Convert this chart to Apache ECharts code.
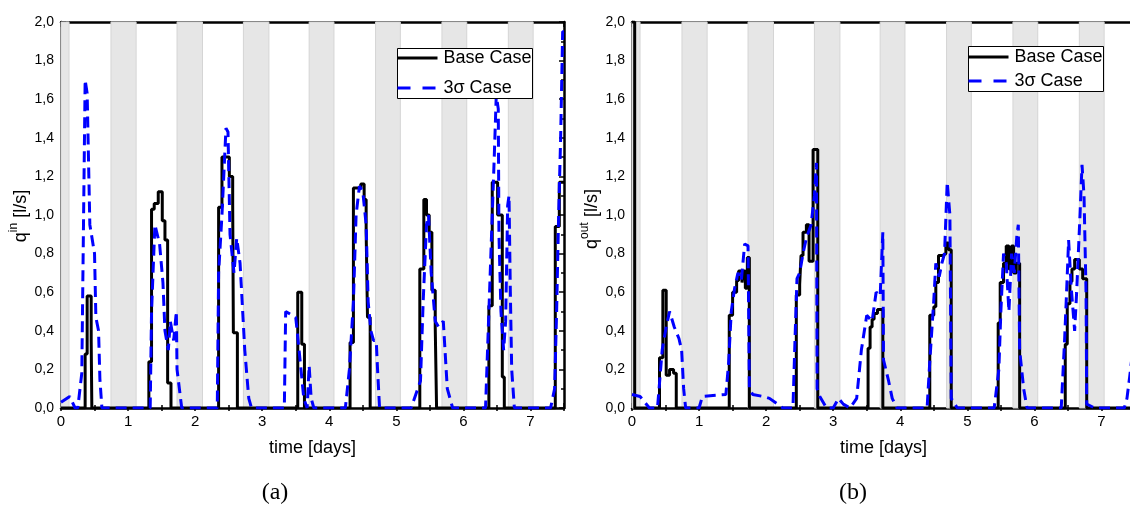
<!DOCTYPE html>
<html><head><meta charset="utf-8">
<script src="https://cdn.jsdelivr.net/npm/echarts@6/dist/echarts.min.js"></script>
<style>html,body{margin:0;padding:0;background:#fff}#c{width:1130px;height:506px}</style>
</head><body><div id="c"></div>
<script>
// ---------- data ----------
const seriesNames = ['Base Case', '3σ Case'];
const xTickValues = [0, 1, 2, 3, 4, 5, 6, 7];
const nightBands = [[0, 0.12], [0.745, 1.12], [1.73, 2.11], [2.72, 3.10], [3.70, 4.07], [4.69, 5.06], [5.68, 6.05], [6.67, 7.04]];

// (a) inflow q_in [l/s] vs time [days]
const baseIn = [[0,0],
 [0.36,0.28],[0.39,0.58],[0.45,0.35],[0.46,0],
 [1.31,0.24],[1.35,1.03],[1.39,1.06],[1.45,1.12],[1.51,0.97],[1.55,0.87],[1.59,0.13],[1.64,0],
 [2.35,1.04],[2.40,1.30],[2.51,1.20],[2.56,1.06],[2.57,0.39],[2.63,0],
 [3.53,0.60],[3.59,0.33],[3.63,0],
 [4.31,0.34],[4.36,1.14],[4.47,1.16],[4.52,1.08],[4.55,0.91],[4.57,0.47],[4.61,0],
 [5.35,0.72],[5.41,1.08],[5.45,1.00],[5.49,0.91],[5.53,0.61],[5.58,0.42],[5.60,0],
 [6.38,0.53],[6.43,1.17],[6.51,1.00],[6.58,0.16],[6.61,0],
 [7.37,0.94],[7.43,1.17],[7.5,1.17]];
const sigmaIn = [[0,0.03],[0.13,0.06],[0.21,0],[0.25,0],[0.31,0.18],[0.36,1.70],[0.39,1.63],[0.43,0.95],[0.50,0.80],[0.52,0.47],[0.56,0.40],[0.58,0.15],[0.61,0],
 [1.33,0],[1.35,0.50],[1.40,0.95],[1.47,0.85],[1.52,0.65],[1.55,0.40],[1.60,0.30],[1.63,0.45],[1.68,0.35],[1.72,0.50],[1.73,0.20],[1.80,0],
 [2.33,0],[2.35,0.70],[2.40,1.00],[2.46,1.45],[2.49,1.43],[2.52,0.90],[2.58,0.70],[2.62,0.88],[2.67,0.75],[2.74,0.30],[2.80,0.05],[2.84,0],
 [3.33,0],[3.35,0.50],[3.50,0.47],[3.55,0.30],[3.62,0.05],[3.67,0],[3.70,0.22],[3.73,0.05],[3.77,0],
 [4.24,0],[4.30,0.20],[4.36,0.55],[4.40,1.00],[4.45,1.15],[4.50,1.12],[4.55,0.95],[4.58,0.55],[4.62,0.40],[4.66,0.35],[4.70,0.35],[4.72,0.20],[4.75,0],
 [5.22,0],[5.36,0.14],[5.40,0.55],[5.45,0.95],[5.48,1.00],[5.52,0.70],[5.58,0.45],[5.63,0.42],[5.70,0.45],[5.76,0.10],[5.84,0],
 [6.33,0],[6.38,0.50],[6.42,0.90],[6.46,1.30],[6.49,1.62],[6.52,1.55],[6.53,0.90],[6.56,0.50],[6.60,0.30],[6.63,0.45],[6.66,1.05],[6.68,1.10],[6.70,0.60],[6.72,0.20],[6.76,0],
 [7.30,0],[7.36,0.10],[7.39,0.50],[7.42,1.00],[7.45,1.40],[7.48,1.95],[7.5,1.95]];

// (b) outflow q_out [l/s] vs time [days]
const baseOut = [[0,2.0],[0.04,0],
 [0.41,0.26],[0.46,0.61],[0.51,0.17],[0.56,0.20],[0.62,0.18],[0.66,0],
 [1.45,0.48],[1.50,0.60],[1.56,0.66],[1.59,0.71],[1.64,0.65],[1.66,0.71],[1.69,0.62],[1.72,0.78],[1.75,0],
 [2.45,0.585],[2.50,0.64],[2.52,0.79],[2.55,0.91],[2.60,0.95],[2.64,0.76],[2.70,1.34],[2.77,0],
 [3.52,0.31],[3.55,0.42],[3.58,0.46],[3.61,0.49],[3.66,0.51],[3.74,0],
 [4.44,0.48],[4.50,0.525],[4.53,0.65],[4.57,0.79],[4.63,0.80],[4.68,0.855],[4.72,0.82],[4.76,0],
 [5.46,0.44],[5.49,0.65],[5.54,0.75],[5.58,0.84],[5.62,0.72],[5.66,0.84],[5.69,0.70],[5.73,0.75],[5.78,0],
 [6.46,0.33],[6.49,0.54],[6.53,0.655],[6.56,0.72],[6.60,0.77],[6.67,0.72],[6.72,0.67],[6.78,0],
 [7.5,0]];
const sigmaOut = [[0,0.07],[0.12,0.06],[0.26,0],[0.38,0],[0.45,0.30],[0.51,0.42],[0.56,0.50],[0.63,0.42],[0.70,0.36],[0.74,0.30],[0.77,0.10],[0.80,0],
 [1.00,0],[1.05,0.06],[1.40,0.07],[1.44,0.23],[1.48,0.50],[1.53,0.62],[1.58,0.70],[1.63,0.66],[1.68,0.85],[1.73,0.84],[1.75,0.10],[1.80,0.07],[1.95,0.06],[2.05,0.05],[2.25,0],
 [2.40,0],[2.43,0.35],[2.46,0.67],[2.50,0.70],[2.55,0.80],[2.60,0.88],[2.67,0.95],[2.72,1.10],[2.75,1.27],[2.76,0.10],[2.80,0.06],[2.90,0],[3.00,0],[3.08,0.05],[3.15,0.02],[3.25,0],
 [3.35,0.05],[3.42,0.30],[3.50,0.48],[3.58,0.45],[3.64,0.60],[3.70,0.58],[3.74,0.91],[3.75,0.25],[3.82,0.15],[3.88,0.05],[3.95,0],
 [4.40,0],[4.44,0.24],[4.50,0.56],[4.53,0.75],[4.58,0.68],[4.62,0.75],[4.66,0.80],[4.70,1.17],[4.74,1.00],[4.76,0.05],[4.85,0],
 [5.40,0],[5.47,0.20],[5.50,0.50],[5.54,0.80],[5.58,0.75],[5.62,0.50],[5.66,0.80],[5.70,0.70],[5.74,0.90],[5.76,0.95],[5.78,0.30],[5.84,0.10],[5.89,0],
 [6.40,0],[6.45,0.35],[6.48,0.60],[6.51,0.87],[6.55,0.62],[6.60,0.40],[6.63,0.60],[6.68,1.00],[6.71,1.26],[6.74,1.10],[6.77,0.60],[6.78,0.02],[6.90,0],
 [7.34,0],[7.38,0.05],[7.42,0.16],[7.5,0.40]];

const panelData = [
  { base: baseIn, sigma: sigmaIn, ySym: 'q', ySup: 'in', tag: '(a)' },
  { base: baseOut, sigma: sigmaOut, ySym: 'q', ySup: 'out', tag: '(b)' }
];

// ---------- layout ----------
const FONT = '"Liberation Sans", Arial, sans-serif';
const layout = [
  { left: 61, legX: 397.5, legY: 48.5, legW: 135, legH: 50, row1: 58, row2: 88, yNameX: 21, yNameY: 216, tagX: 275 },
  { left: 632, legX: 968.5, legY: 46.5, legW: 135, legH: 45, row1: 57, row2: 81, yNameX: 592, yNameY: 219, tagX: 853 }
];
const GRID_TOP = 22, GRID_H = 386, GRID_W = 503;

const grids = [], xAxes = [], yAxes = [], series = [], graphics = [];
const axisLine = { show: true, onZero: false, lineStyle: { color: '#000', width: 2.5 } };
const tickStyle = { color: '#000', width: 1.5 };
const xFmt = v => xTickValues.indexOf(Math.round(v * 1000) / 1000) >= 0 ? String(Math.round(v)) : '';
const yFmt = v => v.toFixed(1).replace('.', ',');

panelData.forEach((p, i) => {
  const L = layout[i];
  grids.push({ left: L.left, top: GRID_TOP, width: GRID_W, height: GRID_H, containLabel: false, outerBoundsMode: 'none' });
  ['bottom', 'top'].forEach(pos => {
    xAxes.push({
      gridIndex: i, type: 'value', position: pos, min: 0, max: 7.5, interval: 1,
      axisLine: axisLine, splitLine: { show: false },
      axisTick: { show: true, inside: true, length: 5, lineStyle: tickStyle },
      axisLabel: pos === 'bottom' ? { show: true, formatter: xFmt, fontSize: 15, color: '#000', margin: 6, fontFamily: FONT } : { show: false },
      name: pos === 'bottom' ? 'time [days]' : '', nameLocation: 'middle', nameGap: 31,
      nameTextStyle: { fontSize: 18, color: '#000', fontFamily: FONT }
    });
    xAxes.push({
      gridIndex: i, type: 'value', position: pos, min: 0, max: 7.5, interval: 0.5,
      axisLine: { show: false }, splitLine: { show: false }, axisLabel: { show: false },
      axisTick: { show: true, inside: true, length: 3, lineStyle: tickStyle }
    });
  });
  ['left', 'right'].forEach(pos => {
    yAxes.push({
      gridIndex: i, type: 'value', position: pos, min: 0, max: 2, interval: 0.2,
      axisLine: axisLine, splitLine: { show: false },
      axisTick: { show: true, inside: true, length: 5, lineStyle: tickStyle },
      minorTick: { show: true, splitNumber: 2, length: 3, lineStyle: tickStyle },
      axisLabel: pos === 'left' ? { show: true, formatter: yFmt, fontSize: 14, color: '#000', margin: 7, fontFamily: FONT } : { show: false }
    });
  });
  series.push({
    type: 'line', name: seriesNames[0], xAxisIndex: 4 * i, yAxisIndex: 2 * i,
    data: p.base, step: 'end', symbol: 'none', z: 3,
    lineStyle: { color: '#000', width: 3 }, itemStyle: { color: '#000' },
    markArea: {
      silent: true, z: 1,
      itemStyle: { color: '#e6e6e6', borderColor: '#d5d5d5', borderWidth: 1 },
      data: nightBands.map(b => [{ xAxis: b[0] }, { xAxis: b[1] }])
    }
  });
  series.push({
    type: 'line', name: seriesNames[1], xAxisIndex: 4 * i, yAxisIndex: 2 * i,
    data: p.sigma, symbol: 'none', z: 4,
    lineStyle: { color: '#0000ff', width: 3, type: [11, 6] }, itemStyle: { color: '#0000ff' }
  });

  // legend box
  graphics.push({ type: 'rect', z: 100, shape: { x: L.legX, y: L.legY, width: L.legW, height: L.legH }, style: { fill: '#fff', stroke: '#000', lineWidth: 1 } });
  graphics.push({ type: 'line', z: 101, shape: { x1: L.legX, y1: L.row1, x2: L.legX + 40, y2: L.row1 }, style: { stroke: '#000', lineWidth: 3 } });
  graphics.push({ type: 'line', z: 101, shape: { x1: L.legX, y1: L.row2, x2: L.legX + 40, y2: L.row2 }, style: { stroke: '#0000ff', lineWidth: 3, lineDash: [13, 12] } });
  graphics.push({ type: 'text', z: 101, x: L.legX + 46, y: L.row1, style: { text: seriesNames[0], font: '18px ' + FONT, fill: '#000', verticalAlign: 'middle' } });
  graphics.push({ type: 'text', z: 101, x: L.legX + 46, y: L.row2, style: { text: seriesNames[1], font: '18px ' + FONT, fill: '#000', verticalAlign: 'middle' } });

  // rotated y-axis name with superscript
  const supW = p.ySup.length === 2 ? 9.5 : 17;
  const total = 10 + supW + 5 + 28;
  const x0 = -total / 2;
  graphics.push({
    type: 'group', x: L.yNameX, y: L.yNameY, rotation: Math.PI / 2,
    children: [
      { type: 'text', x: x0, y: 0, style: { text: p.ySym, font: '18px ' + FONT, fill: '#000', verticalAlign: 'middle' } },
      { type: 'text', x: x0 + 10, y: -7, style: { text: p.ySup, font: '12px ' + FONT, fill: '#000', verticalAlign: 'middle' } },
      { type: 'text', x: x0 + 10 + supW + 5, y: 0, style: { text: '[l/s]', font: '18px ' + FONT, fill: '#000', verticalAlign: 'middle' } }
    ]
  });
  // panel tag
  graphics.push({ type: 'text', x: L.tagX, y: 493, style: { text: p.tag, font: '24px "Liberation Serif", "DejaVu Serif", serif', fill: '#000', align: 'center', verticalAlign: 'middle' } });
});

const chart = echarts.init(document.getElementById('c'));
chart.setOption({
  animation: false,
  backgroundColor: '#fff',
  grid: grids, xAxis: xAxes, yAxis: yAxes, series: series,
  graphic: graphics
});
</script></body></html>
